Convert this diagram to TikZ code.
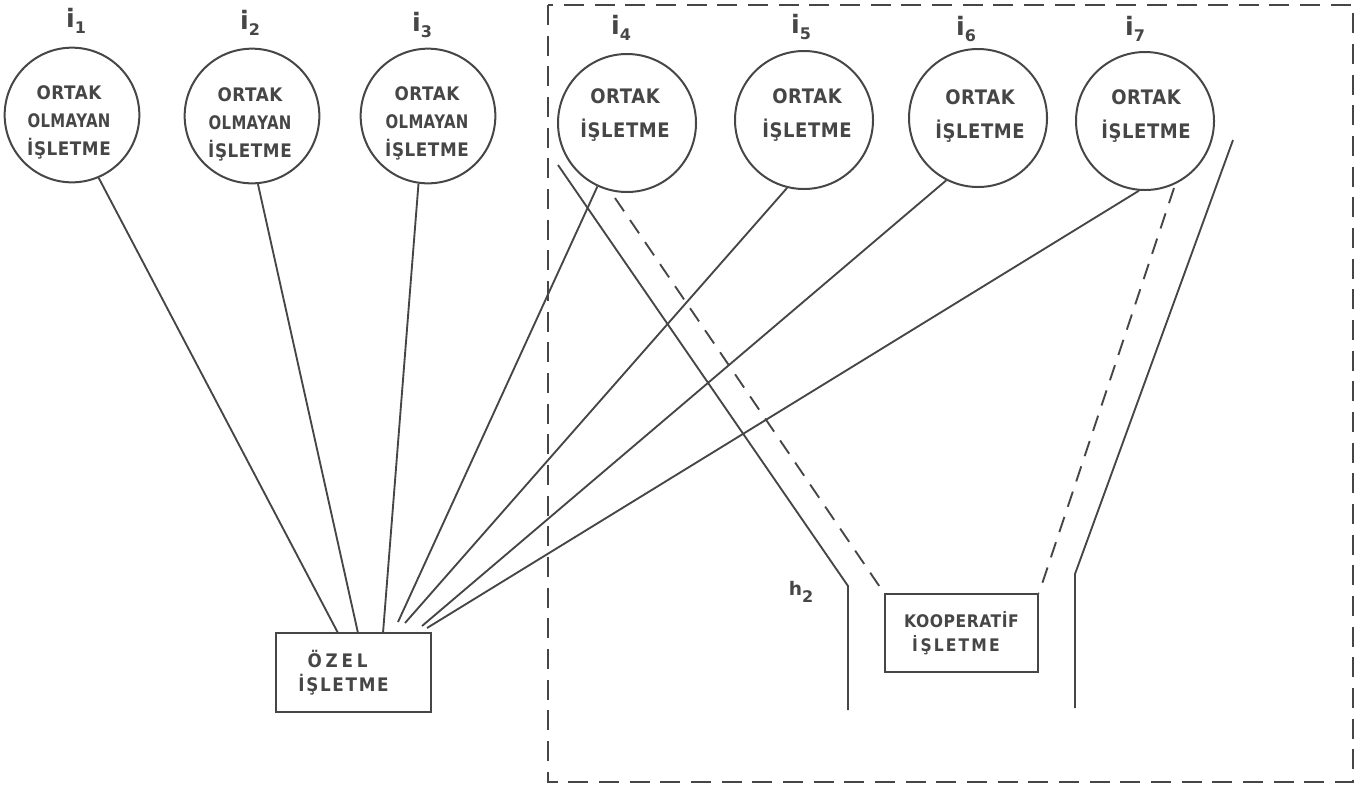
\documentclass[tikz,border=0pt]{standalone}
\usepackage{fontspec}
\setmainfont{DejaVu Sans}
\newfontfamily\lett[LetterSpace=3,FakeStretch=0.9]{DejaVu Sans}
\usetikzlibrary{calc}
\definecolor{ink}{HTML}{464646}
\newcommand{\olmayan}{{\addfontfeature{FakeStretch=0.8,LetterSpace=2}OLMAYAN}}
\begin{document}
\begin{tikzpicture}[x=0.75pt,y=-0.75pt,
  every node/.style={text=ink},
  circ/.style={draw=ink,line width=1.5pt,circle,minimum size=101pt,inner sep=0pt},
  circb/.style={circ,minimum size=103.5pt},
  lbl/.style={font=\lett\bfseries\fontsize{14}{21}\selectfont,align=center,inner sep=0pt},
  lblb/.style={font=\lett\bfseries\fontsize{15}{26}\selectfont,align=center,inner sep=0pt},
  boxn/.style={draw=ink,line width=1.5pt,rectangle,inner sep=0pt,align=left,
    font=\lett\bfseries\fontsize{14}{18.5}\selectfont},
  idx/.style={font=\bfseries\fontsize{19}{19}\selectfont,inner sep=0pt},
  link/.style={draw=ink,line width=1.4pt},
  dlink/.style={link,dash pattern=on 12pt off 8pt},
]
\useasboundingbox (0,0) rectangle (1358,790);

% outer dashed frame
\draw[ink,line width=1.5pt,dash pattern=on 15pt off 8pt] (548,5) rectangle (1353,782);

% circles
\node[circ]  (c1) at (72,115)  {};
\node[circ]  (c2) at (252,116) {};
\node[circ]  (c3) at (428,116) {};
\node[circb] (c4) at (627,123) {};
\node[circb] (c5) at (804,120) {};
\node[circb] (c6) at (978,118) {};
\node[circb] (c7) at (1145,121) {};

% circle texts
\node[lbl]  (t1) at (69,122)  {ORTAK\\\olmayan\\İŞLETME};
\node[lbl]  (t2) at (250,124) {ORTAK\\\olmayan\\İŞLETME};
\node[lbl]  (t3) at (427,123) {ORTAK\\\olmayan\\İŞLETME};
\node[lblb] (t4) at (625,115) {ORTAK\\İŞLETME};
\node[lblb] (t5) at (807,115) {ORTAK\\İŞLETME};
\node[lblb] (t6) at (980,116) {ORTAK\\İŞLETME};
\node[lblb] (t7) at (1146,116) {ORTAK\\İŞLETME};

% index labels
\node[idx] (i1) at (76,21)   {i\raisebox{-5pt}{\fontsize{12}{12}\selectfont 1}};
\node[idx] (i2) at (250,23)  {i\raisebox{-5pt}{\fontsize{12}{12}\selectfont 2}};
\node[idx] (i3) at (422,25)  {i\raisebox{-5pt}{\fontsize{12}{12}\selectfont 3}};
\node[idx] (i4) at (621,28)  {i\raisebox{-5pt}{\fontsize{12}{12}\selectfont 4}};
\node[idx] (i5) at (801,27)  {i\raisebox{-5pt}{\fontsize{12}{12}\selectfont 5}};
\node[idx] (i6) at (966,29)  {i\raisebox{-5pt}{\fontsize{12}{12}\selectfont 6}};
\node[idx] (i7) at (1135,29) {i\raisebox{-5pt}{\fontsize{12}{12}\selectfont 7}};
\node[font=\bfseries\fontsize{14}{14}\selectfont,inner sep=0pt] (h2) at (801,592)
  {h\raisebox{-5pt}{\fontsize{12}{12}\selectfont 2}};

% boxes
\node[boxn,minimum width=116.25pt,minimum height=59.25pt] (ozel) at (353.5,672.5)
  {\hspace{7pt}{\addfontfeature{LetterSpace=20}ÖZEL}\\{\addfontfeature{LetterSpace=9}İŞLETME}\hspace*{15pt}};
\node[boxn,minimum width=114.75pt,minimum height=58.5pt,
  font=\lett\bfseries\fontsize{13}{18.5}\selectfont] (koop) at (961.5,633)
  {KOOPERATİF\\\hspace{6pt}İ\hspace{2pt}{\addfontfeature{LetterSpace=12}ŞLETME}};

% line ends at the Ozel box
\coordinate (e1) at (338,633);
\coordinate (e2) at (358,633);
\coordinate (e3) at (383,633);
\coordinate (e4) at (398,622);
\coordinate (e5) at (405,623);
\coordinate (e6) at (422,626);
\coordinate (e7) at (427,628);

% connectors to the Ozel box
\draw[link] (c1.-67)    -- (e1);
\draw[link] (c2.-85)    -- (e2);
\draw[link] (c3.-98)    -- (e3);
\draw[link] (c4.-115)   -- (e4);
\draw[link] (c5.-104)   -- (e5);
\draw[link] (c6.-117.6) -- (e6);
\draw[link] (c7.-95.6)  -- (e7);

% dashed connectors to the cooperative box
\coordinate (d4) at (615,198);
\coordinate (d7) at (1174,188);
\draw[dlink] (d4) -- (koop.north west);
\draw[dlink] (d7) -- (koop.north east);

% channel lines
\coordinate (a1) at (558,165);
\coordinate (a2) at (848,586);
\coordinate (a3) at (848,710);
\coordinate (b1) at (1233,140);
\coordinate (b2) at (1075,574);
\coordinate (b3) at (1075,708);
\draw[link] (a1) -- (a2) -- (a3);
\draw[link] (b1) -- (b2) -- (b3);
\end{tikzpicture}
\end{document}
